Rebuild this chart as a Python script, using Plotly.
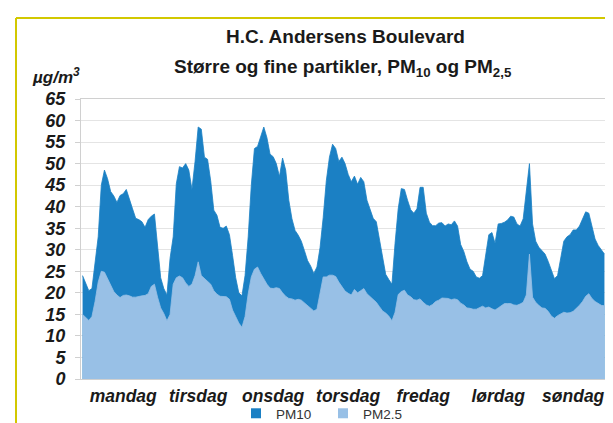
import plotly.graph_objects as go

hours = list(range(168))

pm10 = [
    # mandag
    24, 22, 20.5, 21, 26.5, 33, 45, 48.5, 46.5, 43.5, 42.5, 41,
    42.6, 43, 44, 42, 39.5, 37.3, 37, 36.5, 35.2, 37, 37.8, 38.3,
    # tirsdag
    30, 23.5, 21, 19.5, 28, 33, 45.3, 49.3, 49, 50, 48.5, 44,
    50.5, 58.5, 58, 51.5, 51, 46, 39.2, 38, 35.2, 35, 35.5, 33.5,
    # onsdag
    28.7, 23.5, 20, 19.3, 24, 33, 45, 53.5, 54, 56.5, 58.5, 56,
    52.2, 51.6, 50, 47, 51.3, 48.5, 41.5, 37.2, 34.5, 33.4, 32, 29.8,
    # torsdag
    27.5, 26.2, 24.5, 26, 30.5, 37.5, 46, 51.5, 54.5, 53.5, 50.5, 51.5,
    50, 47.5, 45.8, 47.1, 45.2, 46.8, 45.8, 41.5, 39.2, 37.3, 36.5, 32.3,
    # fredag
    27.5, 24.3, 23.1, 22, 31.5, 39.5, 44.2, 44, 41.5, 39.3, 38.5, 39.5,
    44.5, 44.5, 38.5, 36.4, 35.6, 35.6, 36.2, 36.3, 35.5, 36, 35.8, 36.7,
    # lørdag
    35.5, 31.2, 29.6, 27.2, 25.5, 25, 23.7, 23.4, 24, 28.5, 33.5, 34,
    31.5, 36, 36.1, 36.4, 36.9, 37.8, 37.6, 36, 35.5, 37.2, 43, 50,
    # søndag
    36, 32, 30.6, 29.8, 29, 27.3, 25.2, 23.3, 24, 28.5, 32, 33,
    33.5, 34.6, 34.6, 35.5, 37, 38.8, 38.5, 35.5, 32.5, 31, 30, 29,
]

pm25 = [
    # mandag
    15, 14.3, 13.6, 14.5, 18, 22.5, 25, 24.8, 23.4, 22, 20.3, 19.5,
    18.9, 19.4, 19.5, 19.3, 19, 19, 19.2, 19.3, 19.4, 19.8, 21.5, 22,
    # tirsdag
    19, 16.5, 15.2, 13.5, 15, 22, 23.5, 23.9, 23.5, 22.3, 21.5, 22,
    24, 27.2, 24, 23.3, 22.7, 22, 20.5, 19.7, 19.2, 19.1, 19.1, 18.5,
    # onsdag
    16, 14.5, 13, 12, 14.5, 19.8, 23.7, 25.5, 26, 24.5, 23.2, 22,
    21.1, 21, 21.2, 21, 20, 19.2, 18.7, 18.6, 18.3, 18.5, 18.3, 17.7,
    # torsdag
    17, 16.5, 15.8, 16.2, 19.8, 23.7, 23.7, 24.1, 24.1, 23.8, 22.5, 21.4,
    20.4, 19.9, 19.5, 20.8, 20, 20.5, 21, 19.8, 19.2, 18.5, 17.8, 16.8,
    # fredag
    15.8, 15.3, 14.6, 13.5, 15.5, 19.6, 20.3, 20.6, 19.5, 19.1, 18.4, 18.3,
    18.6, 17.8, 17.2, 16.9, 17.3, 18, 18.3, 18.8, 18.7, 18.7, 18.4, 18.6,
    # lørdag
    18.4, 17.6, 17.2, 16.5, 16.4, 16.2, 16.2, 16.6, 16.9, 16.5, 16.7, 16.3,
    16, 16.5, 17.1, 17.5, 17.5, 17.5, 17.2, 17.1, 17.4, 17.8, 19.5, 29,
    # søndag
    19, 17.8, 17.1, 16.5, 16.4, 15.7, 14.6, 14.1, 14.7, 15.1, 15.5, 15.3,
    15.4, 15.7, 16.3, 17.1, 18, 19.2, 19.8, 18.7, 18, 17.5, 17.1, 17,
]

day_labels = ["mandag", "tirsdag", "onsdag", "torsdag", "fredag", "lørdag", "søndag"]
day_ticks = [i * 24 + 13 for i in range(7)]
y_ticks = list(range(0, 70, 5))

C_PM10 = "#1b80c4"
C_PM25 = "#98c0e6"
FONT = "Liberation Sans, Arial, sans-serif"

fig = go.Figure()
fig.add_trace(go.Scatter(x=hours, y=pm10, mode="lines", fill="tozeroy",
                         line=dict(color=C_PM10, width=0.8), fillcolor=C_PM10,
                         name="PM10", showlegend=False, hoverinfo="skip"))
fig.add_trace(go.Scatter(x=hours, y=pm25, mode="lines", fill="tozeroy",
                         line=dict(color=C_PM25, width=0.8), fillcolor=C_PM25,
                         name="PM2.5", showlegend=False, hoverinfo="skip"))
# legend entries (square symbols)
fig.add_trace(go.Scatter(x=[None], y=[None], mode="markers", name="PM10",
                         marker=dict(symbol="square", size=10, color=C_PM10)))
fig.add_trace(go.Scatter(x=[None], y=[None], mode="markers", name="PM2.5",
                         marker=dict(symbol="square", size=10, color=C_PM25)))

L, R, T, B = 73, 15, 91, 52
W, H = 613, 423
pw, ph = W - L - R, H - T - B

def px_x(p):
    return (p - L) / pw

def px_y(p):
    return (H - B - p) / ph

yellow = "#d2c800"
fig.add_shape(type="line", xref="paper", yref="paper",
              x0=px_x(8), x1=px_x(8), y0=px_y(10), y1=px_y(430),
              line=dict(color=yellow, width=2))
fig.add_shape(type="line", xref="paper", yref="paper",
              x0=px_x(8), x1=px_x(620), y0=px_y(10), y1=px_y(10),
              line=dict(color=yellow, width=2))

fig.add_annotation(text="<b>H.C. Andersens Boulevard</b>", xref="paper", yref="paper",
                   x=px_x(337), y=px_y(29), xanchor="center", yanchor="middle",
                   showarrow=False, font=dict(family=FONT, size=19, color="#1a1a1a"))
fig.add_annotation(text="<b>Større og fine partikler, PM<sub>10</sub> og PM<sub>2,5</sub></b>",
                   xref="paper", yref="paper",
                   x=px_x(335), y=px_y(60), xanchor="center", yanchor="middle",
                   showarrow=False, font=dict(family=FONT, size=19, color="#1a1a1a"))
fig.add_annotation(text="<b><i>µg/m<sup>3</sup></i></b>", xref="paper", yref="paper",
                   x=px_x(22), y=px_y(68), xanchor="left", yanchor="middle",
                   showarrow=False, font=dict(family=FONT, size=17, color="#1a1a1a"))

fig.update_layout(
    width=W, height=H,
    margin=dict(l=L, r=R, t=T, b=B, autoexpand=False),
    paper_bgcolor="white", plot_bgcolor="white",
    font=dict(family=FONT, color="#1a1a1a"),
    legend=dict(orientation="h", x=px_x(228), xanchor="left", y=px_y(390), yanchor="top",
                font=dict(family=FONT, size=13.5, color="#333"),
                itemwidth=30, entrywidth=42, bgcolor="rgba(0,0,0,0)"),
    xaxis=dict(range=[-0.5, 167.5], tickvals=day_ticks, ticktext=day_labels,
               showgrid=False, zeroline=False, showline=True, linecolor="#d0d0d0",
               mirror=True, ticks="", ticklabelstandoff=1,
               tickfont=dict(family=FONT, size=17.5, weight="bold", style="italic", color="#1a1a1a")),
    yaxis=dict(range=[0, 65], tickvals=y_ticks, showgrid=True, gridcolor="#e4e4e4",
               gridwidth=1, zeroline=False, showline=True, linecolor="#d0d0d0",
               mirror=True, ticks="outside", ticklen=5, tickcolor="#d0d0d0",
               ticklabelstandoff=6,
               tickfont=dict(family=FONT, size=18, weight="bold", style="italic", color="#1a1a1a")),
)

fig.write_html("out.html")
